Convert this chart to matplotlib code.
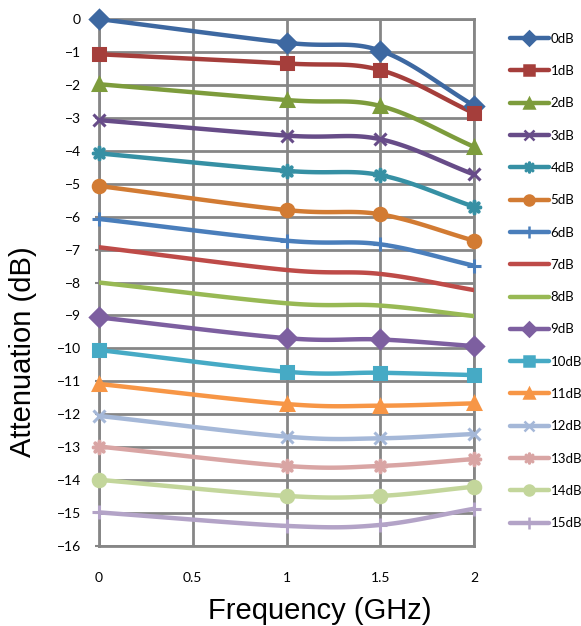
import numpy as np
import matplotlib
matplotlib.use("Agg")
import matplotlib.pyplot as plt
from matplotlib.lines import Line2D

# Dados
frequencias = [0, 1, 1.5, 2]
rotulos = ["0dB", "1dB", "2dB", "3dB", "4dB", "5dB", "6dB", "7dB",
           "8dB", "9dB", "10dB", "11dB", "12dB", "13dB", "14dB", "15dB"]
atenuacao = [
    [0.00, -0.72, -0.96, -2.63],
    [-1.07, -1.35, -1.55, -2.86],
    [-1.98, -2.46, -2.64, -3.88],
    [-3.07, -3.54, -3.65, -4.72],
    [-4.08, -4.61, -4.74, -5.70],
    [-5.07, -5.80, -5.93, -6.73],
    [-6.07, -6.73, -6.84, -7.49],
    [-6.93, -7.62, -7.74, -8.23],
    [-8.00, -8.63, -8.70, -9.02],
    [-9.06, -9.69, -9.73, -9.93],
    [-10.05, -10.71, -10.74, -10.81],
    [-11.08, -11.69, -11.74, -11.67],
    [-12.05, -12.68, -12.73, -12.60],
    [-12.98, -13.57, -13.57, -13.36],
    [-13.99, -14.48, -14.48, -14.20],
    [-14.98, -15.39, -15.36, -14.87],
]

cores = ["#3D68A1", "#A53E3B", "#7D9C3C", "#674C88", "#3690A4", "#D27B33",
         "#4A7EBB", "#BE4B48", "#98B954", "#7D5FA0", "#46AAC5", "#F79646",
         "#A5B8D8", "#D9A5A4", "#C3D69B", "#B3A3C7"]
marcadores = ["D", "s", "^", "x", "$\u2733$", "o", "+", None,
              None, "D", "s", "^", "x", "$\u2733$", "o", "+"]


def suavizar(x, y, n=30):
    """Curva suave tipo Excel (Catmull-Rom) passando pelos pontos"""
    x = np.asarray(x, float)
    y = np.asarray(y, float)
    px = np.concatenate([[2 * x[0] - x[1]], x, [2 * x[-1] - x[-2]]])
    py = np.concatenate([[2 * y[0] - y[1]], y, [2 * y[-1] - y[-2]]])
    xs, ys = [], []
    for i in range(1, len(px) - 2):
        t = np.linspace(0, 1, n)
        for p, out in ((px, xs), (py, ys)):
            p0, p1, p2, p3 = p[i - 1], p[i], p[i + 1], p[i + 2]
            b1 = p1 + (p2 - p0) / 6
            b2 = p2 - (p3 - p1) / 6
            out.extend((1 - t) ** 3 * p1 + 3 * (1 - t) ** 2 * t * b1
                       + 3 * (1 - t) * t ** 2 * b2 + t ** 3 * p2)
    return xs, ys


fig = plt.figure(figsize=(5.81, 6.26), dpi=100)
ax = fig.add_axes([99 / 581, 1 - 546 / 626, 375 / 581, 527 / 626])

handles = []
for nome, valores, cor, marc in zip(rotulos, atenuacao, cores, marcadores):
    xs, ys = suavizar(frequencias, valores)
    ax.plot(xs, ys, color=cor, lw=3.2, solid_capstyle="round", zorder=3)
    tam = 9
    if marc == "+":
        tam = 10
    if marc is not None:
        ax.plot(frequencias, valores, ls="none", marker=marc, color=cor,
                markersize=tam, mew=2.2, zorder=4, clip_on=False)
    handles.append(Line2D([], [], color=cor, lw=3.2, marker=marc,
                          markersize=tam * 0.8, mew=1.8,
                          solid_capstyle="round"))

ax.set_xlim(0, 2)
ax.set_ylim(-16, 0)
ax.set_xticks([0, 0.5, 1, 1.5, 2])
ax.set_xticklabels(["0", "0.5", "1", "1.5", "2"])
ax.set_yticks(range(-16, 1))
ax.grid(True, color="#868686", lw=2)
ax.set_axisbelow(True)
for lado in ax.spines.values():
    lado.set_color("#868686")
    lado.set_linewidth(2)
ax.tick_params(axis="y", length=3, width=1.5, color="#868686",
               labelsize=10, pad=10)
ax.tick_params(axis="x", length=0, labelsize=10, pad=19)
for t in ax.get_xticklabels() + ax.get_yticklabels():
    t.set_fontfamily("Lato")

# Títulos dos eixos (posição como no Excel, fora do centro)
fig.text(320 / 581, 1 - 611 / 626, "Frequency (GHz)", fontsize=21,
         family="Liberation Sans", ha="center", va="center")
fig.text(23 / 581, 1 - 352 / 626, "Attenuation (dB)", fontsize=21,
         family="Liberation Sans", ha="center", va="center", rotation=90)

leg = fig.legend(handles, rotulos, loc="upper left",
                 bbox_to_anchor=(503 / 581, 1 - 26 / 626), frameon=False,
                 prop={"family": "Lato", "size": 9.5}, handlelength=3.0,
                 handletextpad=0.1, labelspacing=1.54, borderpad=0)

fig.savefig("out.png", dpi=100)
